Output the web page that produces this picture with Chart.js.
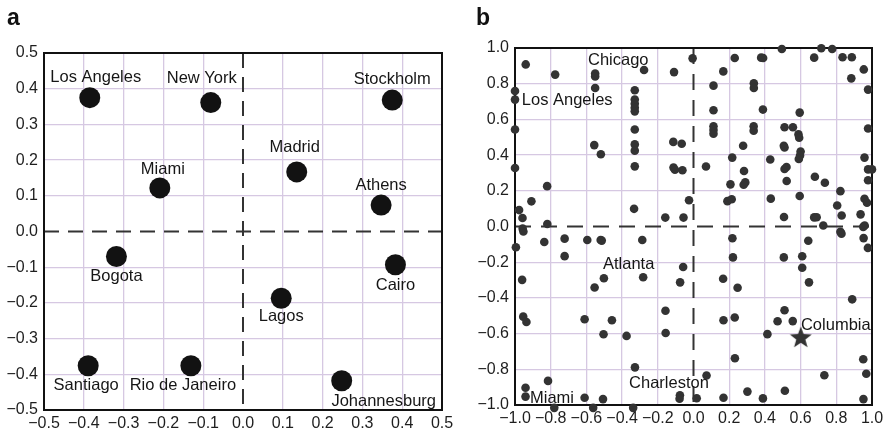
<!DOCTYPE html>
<html>
<head>
<meta charset="utf-8">
<script src="https://cdn.jsdelivr.net/npm/chart.js@4.4.1/dist/chart.umd.min.js"></script>
<style>
  html,body{margin:0;padding:0;background:#fff;width:888px;height:435px;overflow:hidden;}
  canvas{position:absolute;top:0;}
  #ca{left:0;}
  #cb{left:444px;}
</style>
</head>
<body>
<canvas id="ca" width="480" height="435"></canvas>
<canvas id="cb" width="444" height="435"></canvas>
<script>
// ---------- Panel a data ----------
const aCities = ['Los Angeles','New York','Stockholm','Madrid','Miami','Athens','Bogota','Cairo','Lagos','Santiago','Rio de Janeiro','Johannesburg'];
const aX = [-0.385,-0.081,0.375,0.135,-0.209,0.347,-0.318,0.383,0.096,-0.389,-0.131,0.248];
const aY = [0.375,0.361,0.368,0.167,0.122,0.074,-0.070,-0.093,-0.187,-0.376,-0.376,-0.418];
const aTickValues = [-0.5,-0.4,-0.3,-0.2,-0.1,0.0,0.1,0.2,0.3,0.4,0.5];
const aTickLabels = ['\u22120.5','\u22120.4','\u22120.3','\u22120.2','\u22120.1','0.0','0.1','0.2','0.3','0.4','0.5'];
// label offsets (px) relative to each point
const aLabelDx = [6,-9,0,-2,3,0,0,0,0,-2,-8,42];
const aLabelDy = [-20,-24,-21,-24,-18,-20,20,21,18,20,20,21];

// ---------- Panel b data ----------
const bX = [-0.94,-0.775,-0.551,-0.551,-0.551,-0.277,-0.109,-0.005,0.167,0.231,0.379,0.39,0.495,0.676,0.716,0.777,0.835,0.887,0.884,0.954,0.978,-1.0,-1.0,-0.329,-0.329,-0.329,-0.329,-0.329,0.112,0.112,0.338,0.338,0.389,0.595,
  -1.0,-0.329,0.112,0.112,0.112,0.337,0.337,0.51,0.557,0.978,0.588,0.592,-0.556,-0.519,-0.329,-0.329,-0.329,-0.113,-0.066,-0.112,-0.104,-0.062,-1.0,-0.82,0.07,0.278,0.217,0.283,0.29,0.281,0.207,0.43,0.506,0.51,0.6,0.597,0.59,0.521,0.51,0.522,0.68,0.736,0.958,0.978,1.0,0.978,
  0.823,0.805,0.83,0.958,0.972,0.936,0.19,0.214,0.433,0.595,0.507,0.676,0.69,0.727,-0.025,-0.056,-0.158,-0.333,-0.908,-0.977,-0.958,-0.819,
  -0.957,-0.953,-0.995,-0.836,-0.722,-0.722,-0.595,-0.52,-0.514,-0.287,0.218,0.221,0.506,0.609,0.643,0.823,0.829,0.951,0.959,0.953,0.977,
  -0.96,-0.554,-0.502,-0.282,-0.058,-0.075,0.166,0.247,0.609,0.647,
  0.889,-0.954,-0.936,-0.61,-0.457,-0.157,0.168,0.231,0.51,0.471,0.556,
  -0.504,-0.375,-0.156,0.414,-0.328,0.232,0.951,0.733,0.968,-0.815,-0.941,-0.941,-0.78,-0.61,-0.562,-0.507,-0.338,-0.076,-0.078,0.018,0.073,0.168,0.302,0.389,0.512,0.952];
const bY = [0.908,0.851,0.857,0.841,0.776,0.877,0.865,0.942,0.869,0.944,0.946,0.944,0.994,0.946,0.999,0.994,0.948,0.948,0.83,0.88,0.767,0.759,0.711,0.763,0.711,0.688,0.665,0.645,0.789,0.651,0.802,0.776,0.655,0.638,
  0.543,0.543,0.561,0.54,0.52,0.561,0.537,0.556,0.556,0.549,0.516,0.497,0.456,0.405,0.46,0.425,0.337,0.474,0.464,0.33,0.318,0.315,0.328,0.226,0.336,0.452,0.386,0.311,0.247,0.234,0.236,0.375,0.452,0.443,0.42,0.398,0.378,0.333,0.322,0.255,0.279,0.245,0.386,0.32,0.32,0.259,
  0.198,0.118,0.062,0.155,0.133,0.068,0.142,0.153,0.156,0.171,0.053,0.051,0.052,0.006,0.147,0.05,0.05,0.099,0.141,0.092,0.048,0.014,
  -0.012,-0.028,-0.116,-0.087,-0.068,-0.166,-0.076,-0.076,-0.079,-0.076,-0.066,-0.173,-0.173,-0.167,-0.08,-0.03,-0.04,-0.002,0.006,-0.065,-0.12,
  -0.299,-0.342,-0.29,-0.284,-0.227,-0.313,-0.293,-0.343,-0.231,-0.313,
  -0.408,-0.505,-0.535,-0.52,-0.525,-0.472,-0.525,-0.51,-0.469,-0.531,-0.53,
  -0.604,-0.613,-0.597,-0.603,-0.789,-0.738,-0.744,-0.833,-0.825,-0.865,-0.903,-0.953,-1.016,-0.959,-1.016,-0.967,-1.016,-0.946,-0.965,-0.962,-0.835,-0.959,-0.925,-0.963,-0.92,-0.967];
const bStarName = 'Columbia';
const bStarX = [0.601];
const bStarY = [-0.625];
const bLabels = ['Chicago','Los Angeles','Atlanta','Charleston','Miami','Columbia'];
const bLabelX = [-0.591,-0.962,-0.507,-0.361,-0.916,0.602];
const bLabelY = [0.931,0.707,-0.213,-0.878,-0.961,-0.553];
const bTickValues = [-1.0,-0.8,-0.6,-0.4,-0.2,0.0,0.2,0.4,0.6,0.8,1.0];
const bTickLabels = ['\u22121.0','\u22120.8','\u22120.6','\u22120.4','\u22120.2','0.0','0.2','0.4','0.6','0.8','1.0'];

// ---------- styling ----------
const FONT = '"Liberation Sans", Arial, Helvetica, sans-serif';
const GRID = '#d6c8e2';
const TICKCOLOR = '#1e1e1e';

function scaleOpts(min, max, vals, labels, axis) {
  return {
    type: 'linear', min: min, max: max,
    afterBuildTicks: s => { s.ticks = vals.map(v => ({ value: v })); },
    afterFit: s => {
      if (axis === 'y') { s.width = 44; } else { s.height = 25; }
      s.paddingLeft = 0; s.paddingRight = 0; s.paddingTop = 0; s.paddingBottom = 0;
    },
    grid: {
      drawTicks: false,
      lineWidth: 1.3,
      color: c => (c.tick && Math.abs(c.tick.value) < 1e-9) ? 'rgba(0,0,0,0)' : GRID
    },
    border: { display: false },
    ticks: {
      autoSkip: false, maxRotation: 0, minRotation: 0,
      padding: axis === 'y' ? 6 : 4,
      color: TICKCOLOR,
      font: { family: FONT, size: 16 },
      callback: (v, i) => labels[i]
    }
  };
}

function framePlugin(dash, panelLetter, letterX) {
  return {
    id: 'frame',
    beforeDatasetsDraw(chart) {
      const { ctx, chartArea: a, scales } = chart;
      ctx.save();
      ctx.strokeStyle = '#333';
      ctx.lineWidth = 2;
      ctx.setLineDash(dash);
      const x0 = scales.x.getPixelForValue(0);
      const y0 = scales.y.getPixelForValue(0);
      ctx.beginPath(); ctx.moveTo(a.left, y0); ctx.lineTo(a.right, y0); ctx.stroke();
      ctx.beginPath(); ctx.moveTo(x0, a.top); ctx.lineTo(x0, a.bottom); ctx.stroke();
      ctx.setLineDash([]);
      ctx.strokeStyle = '#111';
      ctx.lineWidth = 2;
      ctx.strokeRect(a.left, a.top, a.right - a.left, a.bottom - a.top);
      ctx.restore();
    },
    afterDraw(chart) {
      const ctx = chart.ctx;
      ctx.save();
      ctx.fillStyle = '#111';
      ctx.font = 'bold 23px ' + FONT;
      ctx.textAlign = 'left';
      ctx.textBaseline = 'alphabetic';
      ctx.fillText(panelLetter, letterX, 25);
      ctx.restore();
    }
  };
}

// ---------- Panel a ----------
const aLabelPlugin = {
  id: 'aLabels',
  afterDatasetsDraw(chart) {
    const ctx = chart.ctx;
    const meta = chart.getDatasetMeta(0);
    ctx.save();
    ctx.fillStyle = '#161616';
    ctx.font = '16.5px ' + FONT;
    ctx.textAlign = 'center';
    ctx.textBaseline = 'middle';
    meta.data.forEach((pt, i) => {
      ctx.fillText(aCities[i], pt.x + aLabelDx[i], pt.y + aLabelDy[i]);
    });
    ctx.restore();
  }
};

new Chart(document.getElementById('ca'), {
  type: 'scatter',
  data: {
    datasets: [{
      data: aX.map((x, i) => ({ x: x, y: aY[i] })),
      pointRadius: 10.5,
      pointBackgroundColor: '#121212',
      pointBorderWidth: 0,
      clip: false
    }]
  },
  options: {
    responsive: false, animation: false, devicePixelRatio: 1,
    layout: { padding: { left: 0, right: 38, top: 53, bottom: 0 } },
    plugins: { legend: { display: false }, tooltip: { enabled: false } },
    scales: {
      x: scaleOpts(-0.5, 0.5, aTickValues, aTickLabels, 'x'),
      y: scaleOpts(-0.5, 0.5, aTickValues, aTickLabels, 'y')
    }
  },
  plugins: [framePlugin([15, 9], 'a', 7), aLabelPlugin]
});

// ---------- Panel b ----------
function makeStar(size, outer, inner, color) {
  const c = document.createElement('canvas');
  c.width = size; c.height = size;
  const g = c.getContext('2d');
  g.fillStyle = color;
  g.beginPath();
  for (let k = 0; k < 10; k++) {
    const r = (k % 2 === 0) ? outer : inner;
    const ang = -Math.PI / 2 + k * Math.PI / 5;
    const px = size / 2 + r * Math.cos(ang);
    const py = size / 2 + r * Math.sin(ang);
    if (k === 0) g.moveTo(px, py); else g.lineTo(px, py);
  }
  g.closePath();
  g.fill();
  return c;
}

const bLabelPlugin = {
  id: 'bLabels',
  afterDatasetsDraw(chart) {
    const ctx = chart.ctx;
    const sx = chart.scales.x, sy = chart.scales.y;
    ctx.save();
    ctx.fillStyle = '#161616';
    ctx.font = '16.5px ' + FONT;
    ctx.textAlign = 'left';
    ctx.textBaseline = 'middle';
    bLabels.forEach((t, i) => {
      ctx.fillText(t, sx.getPixelForValue(bLabelX[i]), sy.getPixelForValue(bLabelY[i]));
    });
    ctx.restore();
  }
};

new Chart(document.getElementById('cb'), {
  type: 'scatter',
  data: {
    datasets: [{
      data: bX.map((x, i) => ({ x: x, y: bY[i] })),
      pointRadius: 4.3,
      pointBackgroundColor: '#333333',
      pointBorderWidth: 0,
      clip: false
    }, {
      label: bStarName,
      data: bStarX.map((x, i) => ({ x: x, y: bStarY[i] })),
      pointStyle: makeStar(26, 11.5, 4.8, '#333333'),
      pointRadius: 12,
      clip: false
    }]
  },
  options: {
    responsive: false, animation: false, devicePixelRatio: 1,
    layout: { padding: { left: 27, right: 16, top: 48, bottom: 5 } },
    plugins: { legend: { display: false }, tooltip: { enabled: false } },
    scales: {
      x: scaleOpts(-1, 1, bTickValues, bTickLabels, 'x'),
      y: scaleOpts(-1, 1, bTickValues, bTickLabels, 'y')
    }
  },
  plugins: [framePlugin([16, 10], 'b', 32), bLabelPlugin]
});
</script>
</body>
</html>
